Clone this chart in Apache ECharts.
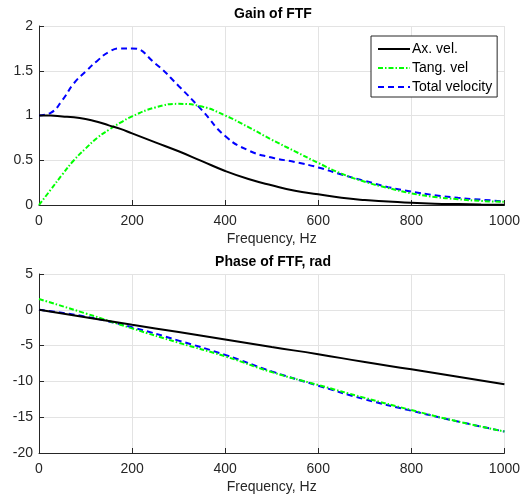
<!DOCTYPE html>
<html>
<head>
  <meta charset="utf-8" />
  <title>FTF</title>
  <script src="https://cdn.jsdelivr.net/npm/echarts@6/dist/echarts.min.js"></script>
  <style>
    body { margin: 0; padding: 0; background: #fff; }
    #main { width: 523px; height: 498px; }
  </style>
</head>
<body>
  <div id="main"></div>
  <script>
    // gain plot (denser at low frequency)
    var freqGain = [0, 25, 50, 75, 100, 125, 150, 175, 200, 250, 300, 350, 400, 450, 500, 550, 600, 650, 700, 750, 800, 850, 900, 950, 1000];
    var gainAx = [1.0, 1.0, 0.99, 0.98, 0.96, 0.93, 0.89, 0.85, 0.80, 0.70, 0.60, 0.49, 0.38, 0.29, 0.22, 0.16, 0.12, 0.08, 0.055, 0.04, 0.025, 0.015, 0.01, 0.006, 0.004];
    var gainTang = [0, 0.17, 0.34, 0.50, 0.63, 0.75, 0.84, 0.92, 0.99, 1.09, 1.13, 1.10, 1.0, 0.87, 0.73, 0.60, 0.47, 0.35, 0.26, 0.19, 0.13, 0.09, 0.065, 0.045, 0.035];
    var gainTotal = [1.0, 1.03, 1.17, 1.36, 1.49, 1.61, 1.71, 1.75, 1.75, 1.58, 1.33, 1.06, 0.77, 0.61, 0.53, 0.48, 0.42, 0.34, 0.27, 0.20, 0.15, 0.11, 0.08, 0.06, 0.04];

    // phase plot, 100 Hz steps
    var freqPhase = [0, 100, 200, 300, 400, 500, 600, 700, 800, 900, 1000];
    var phaseAx = [0, -1.05, -2.1, -3.1, -4.15, -5.2, -6.2, -7.3, -8.3, -9.35, -10.4];
    var phaseTang = [1.5, -0.5, -2.6, -4.6, -6.5, -8.7, -10.5, -12.3, -14.0, -15.6, -17.0];
    var phaseTotal = [0, -0.95, -2.45, -4.3, -6.3, -8.6, -10.6, -12.5, -14.1, -15.6, -17.0];

    var names = ['Ax. vel.', 'Tang. vel', 'Total velocity'];
    var colors = ['#000000', '#00ff00', '#0000ff'];
    var dashes = ['solid', [5, 2, 1.5, 2], [6, 4]];

    function pairs(xs, ys) {
      return xs.map(function (x, i) { return [x, ys[i]]; });
    }

    var chart = echarts.init(document.getElementById('main'), null, { renderer: 'canvas' });

    var txt = '#262626';
    var font = 'Liberation Sans, Arial, sans-serif';
    var plain = function (v) { return String(v); };

    function xAx(idx) {
      return {
        type: 'value', gridIndex: idx, min: 0, max: 1000, interval: 200,
        name: 'Frequency, Hz', nameLocation: 'middle', nameGap: 27,
        nameTextStyle: { color: txt, fontSize: 14, fontFamily: font },
        axisLine: { onZero: false, lineStyle: { color: txt, width: 1 } },
        axisTick: { inside: true, length: 5, lineStyle: { color: txt } },
        axisLabel: { color: txt, fontSize: 14, fontFamily: font, margin: 9, formatter: plain },
        splitLine: { show: true, lineStyle: { color: '#e3e3e3', width: 1 } }
      };
    }
    function yAx(idx, mn, mx, step) {
      return {
        type: 'value', gridIndex: idx, min: mn, max: mx, interval: step,
        axisLine: { show: true, onZero: false, lineStyle: { color: txt, width: 1 } },
        axisTick: { show: true, inside: true, length: 5, lineStyle: { color: txt } },
        axisLabel: { color: txt, fontSize: 14, fontFamily: font, margin: 6, formatter: plain },
        splitLine: { show: true, lineStyle: { color: '#e3e3e3', width: 1 } }
      };
    }

    var gainData = [gainAx, gainTang, gainTotal];
    var phaseData = [phaseAx, phaseTang, phaseTotal];
    var series = [];
    for (var i = 0; i < 3; i++) {
      series.push({
        name: names[i], type: 'line', xAxisIndex: 0, yAxisIndex: 0,
        data: pairs(freqGain, gainData[i]), smooth: 0.5, symbol: 'none',
        lineStyle: { color: colors[i], width: 2, type: dashes[i] },
        itemStyle: { color: colors[i] }, z: 3 - i
      });
    }
    for (var j = 0; j < 3; j++) {
      series.push({
        name: names[j], type: 'line', xAxisIndex: 1, yAxisIndex: 1,
        data: pairs(freqPhase, phaseData[j]), smooth: 0.5, symbol: 'none',
        lineStyle: { color: colors[j], width: 2, type: dashes[j] },
        itemStyle: { color: colors[j] }, z: 3 - j
      });
    }

    chart.setOption({
      animation: false,
      backgroundColor: '#fff',
      title: [
        { text: 'Gain of FTF', left: 273, top: 7, padding: 0, textAlign: 'center',
          textStyle: { fontSize: 14, fontWeight: 'bold', color: '#000', fontFamily: font } },
        { text: 'Phase of FTF, rad', left: 273, top: 255, padding: 0, textAlign: 'center',
          textStyle: { fontSize: 14, fontWeight: 'bold', color: '#000', fontFamily: font } }
      ],
      legend: {
        data: names, orient: 'vertical', left: 371, top: 36,
        padding: [6, 5, 3, 6], itemGap: 5, itemWidth: 32, itemHeight: 14,
        backgroundColor: '#fff', borderColor: txt, borderWidth: 1, borderRadius: 0,
        itemStyle: { opacity: 0 },
        textStyle: { color: '#000', fontSize: 14, fontFamily: font, padding: [0, 0, 0, -3] }
      },
      grid: [
        { left: 39, right: 15, top: 26, height: 179 },
        { left: 39, right: 15, top: 274, height: 179 }
      ],
      xAxis: [xAx(0), xAx(1)],
      yAxis: [yAx(0, 0, 2, 0.5), yAx(1, -20, 5, 5)],
      series: series
    });
  </script>
</body>
</html>
